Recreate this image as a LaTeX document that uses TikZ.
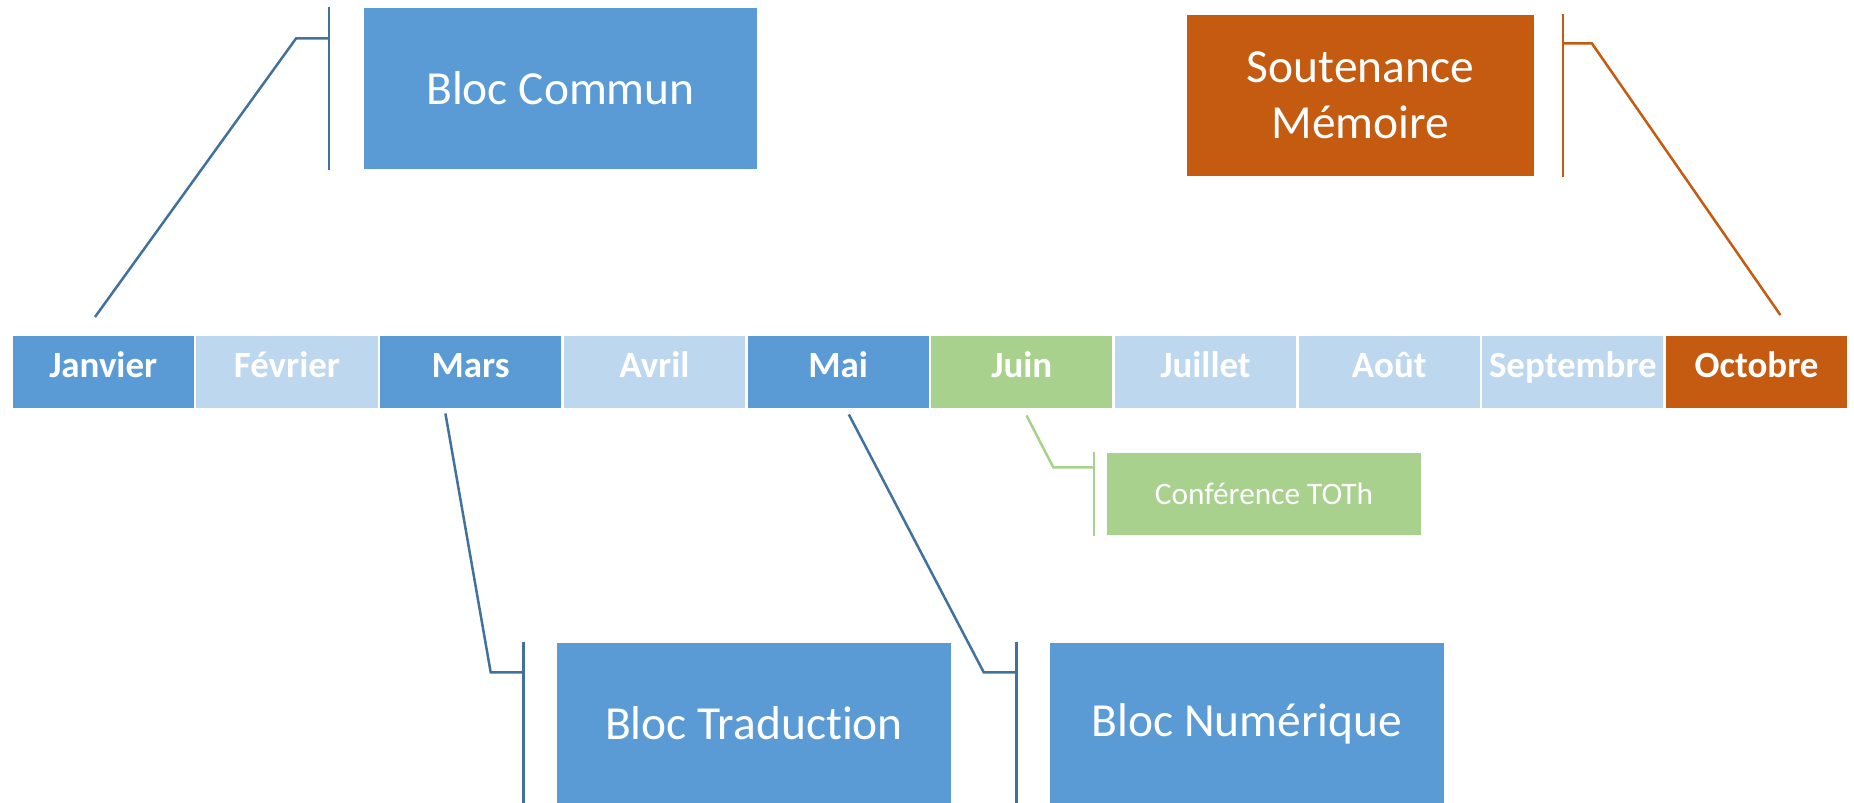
\documentclass[tikz,border=0pt]{standalone}
\usepackage{fontspec}
\setmainfont[Ligatures=NoCommon]{Carlito}
\usetikzlibrary{matrix,calc}

\definecolor{accblue}{HTML}{5B9BD5}
\definecolor{paleblue}{HTML}{BDD7EE}
\definecolor{accgreen}{HTML}{A9D18E}
\definecolor{accorange}{HTML}{C55A11}
\definecolor{lineblue}{HTML}{41719C}

\tikzset{
  month/.style={fill=accblue,text=white,font=\bfseries\fontsize{10.5}{12}\selectfont,
    minimum width=1.81cm,minimum height=0.72cm,inner sep=0pt,
    text height=0.22cm,text depth=0.10cm},
  pale/.style={fill=paleblue},
  green/.style={fill=accgreen},
  orange/.style={fill=accorange},
  event/.style={fill=accblue,text=white,inner sep=0pt,minimum width=3.93cm,
    minimum height=1.61cm,align=center,font=\fontsize{13.5}{15.9}\selectfont},
  link/.style={draw=lineblue,line width=0.025cm},
}

\begin{document}
\begin{tikzpicture}[x=0.01cm,y=-0.01cm]
  \useasboundingbox (0,0) rectangle (1854,802);

  % months
  \matrix (m) [matrix of nodes,nodes={month},column sep=0.026cm,inner sep=0pt,anchor=north west] at (12,335) {
    Janvier & |[pale]| Février & Mars & |[pale]| Avril & Mai & |[green]| Juin & |[pale]| Juillet & |[pale]| Août & |[pale]| Septembre & |[orange]| Octobre \\
  };

  % events
  \node[event] (commun) at (560.5,88.5) {Bloc Commun};
  \node[event,orange,minimum width=3.47cm] (soutenance) at (1360.5,95.5) {Soutenance\\Mémoire};
  \node[event] (traduction) at (754,723.5) {Bloc Traduction};
  \node[event] (numerique) at (1247,723.5) {Bloc Numérique};
  \node[event,green,minimum width=3.14cm,minimum height=0.82cm,font=\fontsize{8.9}{11}\selectfont] (toth) at (1264,494) {Conférence TOTh};

  % free ends near the months
  \coordinate (janv) at ($(m-1-1.north west)+(83,-18)$);
  \coordinate (mars) at ($(m-1-3.south west)+(66,5)$);
  \coordinate (mai)  at ($(m-1-5.south west)+(102,6)$);
  \coordinate (juin) at ($(m-1-6.south west)+(96,7)$);
  \coordinate (oct)  at ($(m-1-10.north west)+(115,-20)$);

  % callouts
  \draw[link] ($(commun.north west)+(-34,0)$) coordinate (bc) -- ($(commun.south west)+(-34,0)$);
  \draw[link] (janv) -- ($(bc)+(-33,31)$) -- ($(bc)+(0,31)$);

  \draw[link] ($(traduction.north west)+(-33,0)$) coordinate (bt) -- ($(traduction.south west)+(-33,0)$);
  \draw[link] (mars) -- ($(bt)+(-33,30)$) -- ($(bt)+(0,30)$);

  \draw[link] ($(numerique.north west)+(-33,0)$) coordinate (bn) -- ($(numerique.south west)+(-33,0)$);
  \draw[link] (mai) -- ($(bn)+(-33,30)$) -- ($(bn)+(0,30)$);

  \draw[link,draw=accgreen] ($(toth.north west)+(-12,0)$) coordinate (bo) -- ($(toth.south west)+(-12,0)$);
  \draw[link,draw=accgreen] (juin) -- ($(bo)+(-41,15)$) -- ($(bo)+(0,15)$);

  \draw[link,draw=accorange] ($(soutenance.north east)+(28,0)$) coordinate (bs) -- ($(soutenance.south east)+(28,0)$);
  \draw[link,draw=accorange] (oct) -- ($(bs)+(29,29)$) -- ($(bs)+(0,29)$);
\end{tikzpicture}
\end{document}
